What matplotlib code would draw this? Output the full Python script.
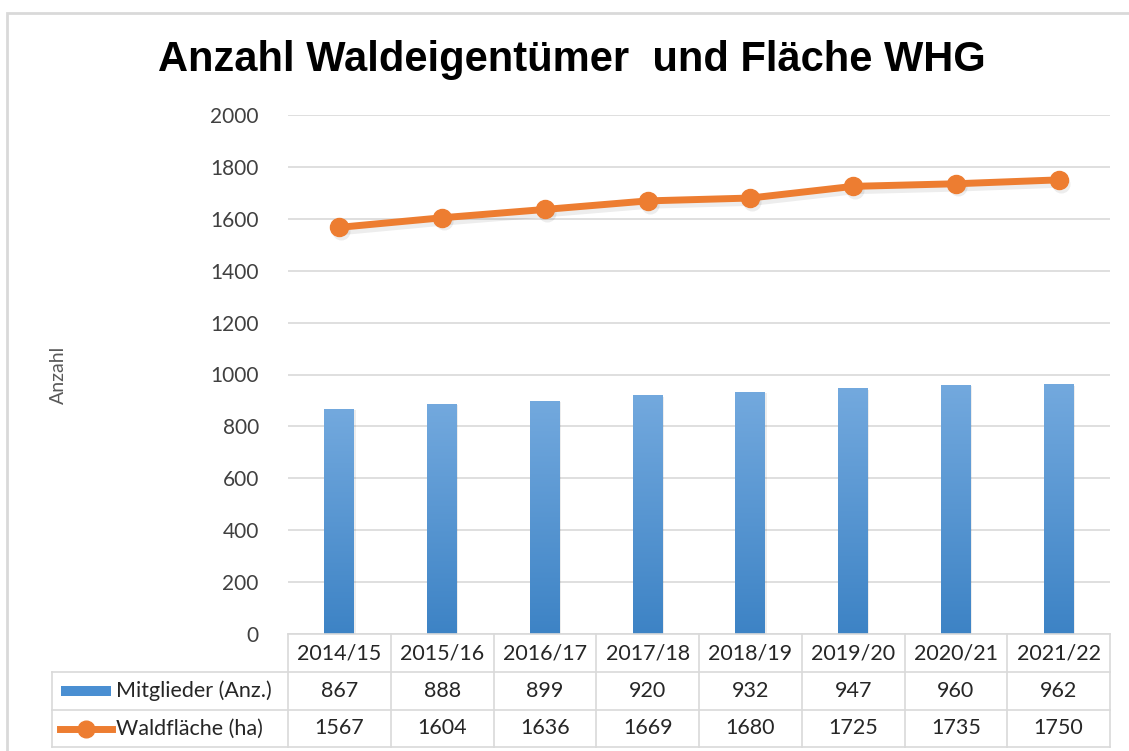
import matplotlib.pyplot as plt
import matplotlib.transforms as mtransforms
import numpy as np
from matplotlib.colors import LinearSegmentedColormap
from matplotlib.patches import Rectangle
from matplotlib.lines import Line2D

plt.rcParams['font.family'] = ['Liberation Sans', 'DejaVu Sans']

# Daten
jahre = ['2014/15', '2015/16', '2016/17', '2017/18', '2018/19', '2019/20', '2020/21', '2021/22']
mitglieder = [867, 888, 899, 920, 932, 947, 960, 962]
waldflaeche = [1567, 1604, 1636, 1669, 1680, 1725, 1735, 1750]
yticks = [0, 200, 400, 600, 800, 1000, 1200, 1400, 1600, 1800, 2000]

W, H = 1129, 751
blau_oben = '#73A9DE'
blau_unten = '#3D83C5'
orange = '#ED7D31'
grau_linie = '#D9D9D9'
text_grau = '#404040'
tab_font = ['Lato', 'DejaVu Sans']

fig = plt.figure(figsize=(W / 100, H / 100), dpi=100)

# Rahmen des Diagrammbereichs
fig.add_artist(Rectangle((7 / W, -0.1), 1.2, 1 - 13 / H + 0.1, transform=fig.transFigure,
                         fill=False, edgecolor='#D9D9D9', linewidth=2))

ax_l, ax_r, ax_t, ax_b = 288, 1110, 115, 634
ax = fig.add_axes([ax_l / W, 1 - ax_b / H, (ax_r - ax_l) / W, (ax_b - ax_t) / H])
x = np.arange(len(jahre))
ax.set_yticks(yticks)
ax.set_yticklabels([str(v) for v in yticks], fontsize=15, color=text_grau, family=tab_font)
ax.tick_params(axis='y', length=0, pad=21)
ax.set_xticks([])
for s in ax.spines.values():
    s.set_visible(False)
ax.grid(axis='y', color=grau_linie, linewidth=1.2)
ax.set_axisbelow(True)

# Balken mit Farbverlauf
cmap = LinearSegmentedColormap.from_list('blau', [blau_unten, blau_oben])
grad = np.linspace(0, 1, 256).reshape(-1, 1)
bw = 0.29
for xi, h in zip(x, mitglieder):
    # leichter Schatten
    ax.add_patch(Rectangle((xi - bw / 2 + 0.012, 0), bw, h - 5, facecolor='#000000',
                           alpha=0.07, edgecolor='none', zorder=1.5))
    bar = ax.bar(xi, h, width=bw, color=blau_oben, zorder=2)[0]
    im = ax.imshow(grad, extent=[xi - bw / 2, xi + bw / 2, 0, h], origin='lower',
                   aspect='auto', cmap=cmap, zorder=2.1)
    im.set_clip_path(bar)
ax.set_aspect('auto')
ax.set_xlim(-0.5, len(jahre) - 0.5)
ax.set_ylim(0, 2000)

# Linie mit Schatten
ax.plot(x + 0.02, np.array(waldflaeche) - 14, color='#000000', alpha=0.07, linewidth=6,
        marker='o', markersize=13, markeredgewidth=0, zorder=2.8, solid_capstyle='round')
ax.plot(x, waldflaeche, color=orange, linewidth=5, marker='o', markersize=13,
        markerfacecolor=orange, markeredgecolor=orange, zorder=3)

# Titel und Achsenbeschriftung
fig.text(572 / W, 1 - 60 / H, 'Anzahl Waldeigentümer  und Fläche WHG', ha='center', va='center',
         fontsize=30, fontweight='bold', color='black')
fig.text(58 / W, 1 - 375 / H, 'Anzahl', rotation=90, ha='center', va='center',
         fontsize=14, color='#595959', family=tab_font)

# Datentabelle
def fx(px):
    return px / W
def fy(py):
    return 1 - py / H

tab_l = 52
zeilen = [634, 672, 710, 747]
spalten = [ax_l + i * (ax_r - ax_l) / len(jahre) for i in range(len(jahre) + 1)]

lw = 1.2
# horizontale Linien
fig.add_artist(Line2D([fx(ax_l), fx(ax_r)], [fy(zeilen[0])] * 2, color=grau_linie, lw=lw))
for zy in zeilen[1:]:
    fig.add_artist(Line2D([fx(tab_l), fx(ax_r)], [fy(zy)] * 2, color=grau_linie, lw=lw))
# vertikale Linien
for sx in spalten:
    fig.add_artist(Line2D([fx(sx)] * 2, [fy(zeilen[0]), fy(zeilen[-1])], color=grau_linie, lw=lw))
fig.add_artist(Line2D([fx(tab_l)] * 2, [fy(zeilen[1]), fy(zeilen[-1])], color=grau_linie, lw=lw))

fs = 15.5
for i, j in enumerate(jahre):
    cx = (spalten[i] + spalten[i + 1]) / 2
    fig.text(fx(cx), fy((zeilen[0] + zeilen[1]) / 2), j, ha='center', va='center',
             fontsize=fs, color='#262626', family=tab_font)
    fig.text(fx(cx), fy((zeilen[1] + zeilen[2]) / 2), str(mitglieder[i]), ha='center',
             va='center', fontsize=fs, color='#262626', family=tab_font)
    fig.text(fx(cx), fy((zeilen[2] + zeilen[3]) / 2), str(waldflaeche[i]), ha='center',
             va='center', fontsize=fs, color='#262626', family=tab_font)

# Legendenschlüssel in der Tabelle
r1 = (zeilen[1] + zeilen[2]) / 2
fig.add_artist(Rectangle((fx(61), fy(r1 + 5)), (111 - 61) / W, 10 / H, transform=fig.transFigure,
                         facecolor='#4A8FD2', edgecolor='none'))
fig.text(fx(116), fy(r1), 'Mitglieder (Anz.)', ha='left', va='center', fontsize=fs,
         color='#262626', family=tab_font)
r2 = (zeilen[2] + zeilen[3]) / 2
fig.add_artist(Line2D([fx(60), fx(112)], [fy(r2)] * 2, color=orange, lw=5))
fig.add_artist(Line2D([fx(86)], [fy(r2)], color=orange, marker='o', markersize=12, lw=0))
fig.text(fx(116), fy(r2), 'Waldfläche (ha)', ha='left', va='center', fontsize=fs,
         color='#262626', family=tab_font)

fig.savefig('out.png', dpi=100)
